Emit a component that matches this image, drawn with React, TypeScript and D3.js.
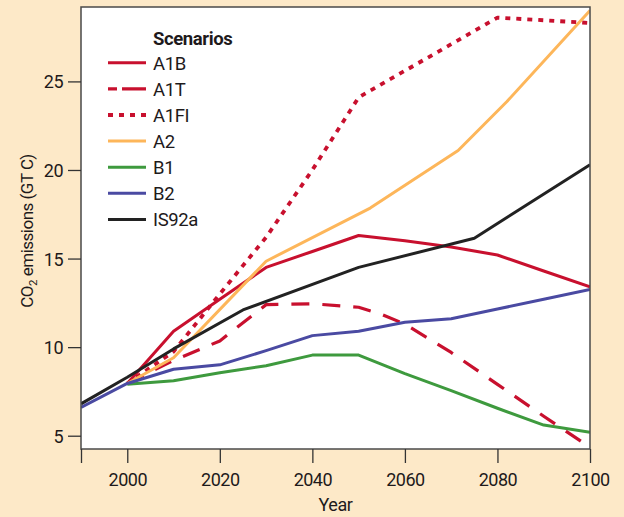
import React, { useEffect, useRef } from 'react';
import * as d3 from 'd3';

// CO2 emissions by scenario, [year, GT C]
const A1B: [number, number][] = [
  [2000, 7.95], [2010, 10.9], [2020, 12.7], [2030, 14.5], [2040, 15.4], [2050, 16.3],
  [2060, 16.0], [2070, 15.65], [2080, 15.2], [2090, 14.3], [2100, 13.4],
];
const A1T: [number, number][] = [
  [2000, 7.95], [2010, 9.25], [2020, 10.35], [2030, 12.4], [2040, 12.45], [2050, 12.25],
  [2055, 11.85], [2060, 11.3], [2070, 9.7], [2080, 7.9], [2090, 6.1], [2100, 4.35],
];
const A1FI: [number, number][] = [
  [2000, 7.95], [2010, 9.75], [2020, 13.0], [2030, 16.2], [2040, 20.0], [2050, 24.1],
  [2060, 25.6], [2070, 27.1], [2080, 28.6], [2100, 28.3],
];
const A2: [number, number][] = [
  [2000, 7.95], [2010, 9.4], [2030, 14.85], [2052.5, 17.85], [2071.5, 21.1], [2082, 23.85], [2100, 29.0],
];
const B1: [number, number][] = [
  [2000, 7.9], [2010, 8.1], [2020, 8.55], [2030, 8.95], [2040, 9.55], [2050, 9.55],
  [2060, 8.5], [2070, 7.55], [2080, 6.55], [2090, 5.6], [2100, 5.2],
];
const B2: [number, number][] = [
  [1990, 6.6], [2000, 7.95], [2010, 8.75], [2020, 9.0], [2030, 9.8], [2040, 10.65], [2050, 10.9],
  [2060, 11.4], [2070, 11.6], [2080, 12.15], [2090, 12.7], [2100, 13.25],
];
const IS92a: [number, number][] = [
  [1990, 6.8], [2000, 8.3], [2010, 9.9], [2025, 12.1], [2050, 14.5], [2075, 16.15], [2100, 20.3],
];

const scenarioNames = ['A1B', 'A1T', 'A1FI', 'A2', 'B1', 'B2', 'IS92a'];
const scenarioData = [A1B, A1T, A1FI, A2, B1, B2, IS92a];

const xTicks = [1990, 2000, 2020, 2040, 2060, 2080, 2100];
const yTicks = [5, 10, 15, 20, 25];

// styling per scenario
const styles: Record<string, { color: string; dash: string | null; width: number }> = {
  A1B: { color: '#c8102e', dash: null, width: 3 },
  A1T: { color: '#c8102e', dash: '18 13', width: 3.2 },
  A1FI: { color: '#c8102e', dash: '5 6', width: 3.8 },
  A2: { color: '#fdb65a', dash: null, width: 3 },
  B1: { color: '#3e9a3e', dash: null, width: 3 },
  B2: { color: '#4a4aa2', dash: null, width: 3 },
  IS92a: { color: '#222222', dash: null, width: 3 },
};

const W = 624;
const H = 517;
const font = 'Roboto, "Noto Sans", sans-serif';
const ink = '#1e1a1b';

const App: React.FC = () => {
  const svgRef = useRef<SVGSVGElement>(null);

  useEffect(() => {
    if (!svgRef.current) return;
    const svg = d3.select(svgRef.current);
    svg.selectAll('*').remove();

    const left = 81, right = 590, top = 7, bottom = 449;

    const x = d3.scaleLinear().domain([1990, 2100]).range([left, right]);
    const y = d3.scaleLinear().domain([4.25, 29.2]).range([bottom, top]);

    svg.append('rect').attr('width', W).attr('height', H).attr('fill', '#fde9c8');

    svg.append('rect')
      .attr('x', left).attr('y', top)
      .attr('width', right - left).attr('height', bottom - top)
      .attr('fill', '#ffffff');

    // clip lines to plot
    svg.append('clipPath').attr('id', 'plotclip')
      .append('rect')
      .attr('x', left).attr('y', top)
      .attr('width', right - left).attr('height', bottom - top);

    const line = d3.line<[number, number]>()
      .x(d => x(d[0]))
      .y(d => y(d[1]));

    const g = svg.append('g').attr('clip-path', 'url(#plotclip)');
    scenarioNames.forEach((name, i) => {
      const s = styles[name];
      g.append('path')
        .datum(scenarioData[i])
        .attr('d', line)
        .attr('fill', 'none')
        .attr('stroke', s.color)
        .attr('stroke-width', s.width)
        .attr('stroke-dasharray', s.dash)
        .attr('stroke-linejoin', 'round');
    });

    // frame
    svg.append('rect')
      .attr('x', left).attr('y', top)
      .attr('width', right - left).attr('height', bottom - top)
      .attr('fill', 'none')
      .attr('stroke', '#4a4a4a')
      .attr('stroke-width', 1.5);

    // axes
    const xAxis = d3.axisBottom(x)
      .tickValues(xTicks)
      .tickSize(14)
      .tickSizeOuter(0)
      .tickFormat(d => (+d === 1990 ? '' : String(d)));
    const xg = svg.append('g').attr('transform', `translate(0,${bottom})`).call(xAxis);
    xg.select('.domain').remove();

    const yAxis = d3.axisLeft(y)
      .tickValues(yTicks)
      .tickSize(13)
      .tickSizeOuter(0)
      .tickFormat(d3.format('d'));
    const yg = svg.append('g').attr('transform', `translate(${left},0)`).call(yAxis);
    yg.select('.domain').remove();

    [xg, yg].forEach(ax => {
      ax.selectAll('line').attr('stroke', '#333').attr('stroke-width', 1.3);
      ax.selectAll('text')
        .attr('fill', ink)
        .attr('font-family', font)
        .attr('font-size', 18)
        .attr('letter-spacing', -0.5);
    });
    xg.selectAll('text').attr('dy', null).attr('y', 36.5);
    yg.selectAll('text').attr('x', -18).attr('dy', '0.36em');

    // axis titles
    svg.append('text')
      .attr('x', (left + right) / 2).attr('y', 511)
      .attr('text-anchor', 'middle')
      .attr('font-family', font).attr('font-size', 18)
      .attr('letter-spacing', -0.4)
      .attr('fill', ink)
      .text('Year');

    const yl = svg.append('text')
      .attr('transform', `translate(33,${(top + bottom) / 2 + 3}) rotate(-90)`)
      .attr('text-anchor', 'middle')
      .attr('font-family', font).attr('font-size', 17)
      .attr('letter-spacing', -0.5)
      .attr('fill', ink);
    yl.append('tspan').text('CO');
    yl.append('tspan').attr('font-size', 11.5).attr('dy', 4).text('2');
    yl.append('tspan').attr('dy', -4).text(' emissions (GT C)');

    // legend
    const legend = svg.append('g');
    legend.append('text')
      .attr('x', 153).attr('y', 45)
      .attr('font-family', font).attr('font-size', 18.5)
      .attr('font-weight', 'bold')
      .attr('letter-spacing', -0.4)
      .attr('fill', ink)
      .text('Scenarios');

    scenarioNames.forEach((name, i) => {
      const s = styles[name];
      const cy = 62.8 + i * 26.1;
      legend.append('line')
        .attr('x1', 108).attr('x2', 146)
        .attr('y1', cy).attr('y2', cy)
        .attr('stroke', s.color)
        .attr('stroke-width', s.width)
        .attr('stroke-dasharray', name === 'A1T' ? '9 5 24' : s.dash);
      legend.append('text')
        .attr('x', 153).attr('y', cy + 6.8)
        .attr('font-family', font).attr('font-size', 18.5)
        .attr('letter-spacing', -0.4)
        .attr('fill', ink)
        .text(name);
    });
  }, []);

  return (
    <svg
      ref={svgRef}
      width={W}
      height={H}
      style={{ position: 'absolute', left: 0, top: 0, display: 'block' }}
    />
  );
};

export default App;
